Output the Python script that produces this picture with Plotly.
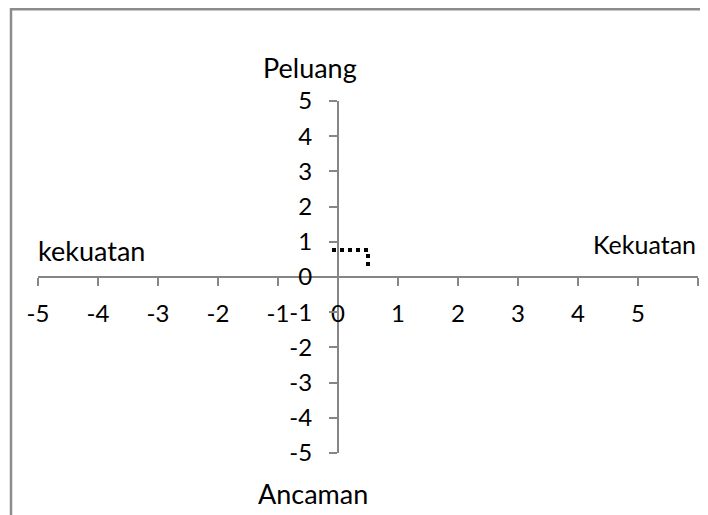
import plotly.graph_objects as go

# SWOT position (dotted marker path)
pos_x = [-0.1, 0.5, 0.5]
pos_y = [0.77, 0.77, 0.26]

x_ticks = [-5, -4, -3, -2, -1, 0, 1, 2, 3, 4, 5, 6]
x_labels = ["-5", "-4", "-3", "-2", "-1", "0", "1", "2", "3", "4", "5", ""]
y_ticks = [-5, -4, -3, -2, -1, 0, 1, 2, 3, 4, 5]
y_labels = [str(v) for v in y_ticks]

axis_color = "#868686"
font = dict(family="Lato, Open Sans, sans-serif", size=24, color="black")
cap_font = dict(family="Lato, Open Sans, sans-serif", size=27, color="black")

fig = go.Figure()
fig.add_trace(go.Scatter(
    x=pos_x, y=pos_y, mode="lines",
    line=dict(color="black", width=4, dash="dot"),
    showlegend=False, hoverinfo="skip",
))

# axis captions (paper coords so they are not hidden outside the ranges)
captions = [
    ("Peluang", 0.412, 1.094, "center", 27),
    ("Ancaman", 0.417, -0.116, "center", 27),
    ("kekuatan", -0.003, 0.574, "left", 27),
    ("Kekuatan", 1.0, 0.593, "right", 25),
]
for txt, cx, cy, anchor, fs in captions:
    fig.add_annotation(x=cx, y=cy, xref="paper", yref="paper", text=txt, showarrow=False,
                       xanchor=anchor, yanchor="middle", font=dict(cap_font, size=fs))

# outer chart frame
fig.add_shape(type="rect", xref="paper", yref="paper",
              x0=-0.0409, y0=-1, x1=2, y1=1.261,
              line=dict(color="#8c8c8c", width=2.5))

fig.update_layout(
    width=700, height=507,
    margin=dict(l=30, r=10, t=93, b=62),
    paper_bgcolor="white", plot_bgcolor="white",
    font=font,
    xaxis=dict(
        range=[-5, 6], tickvals=x_ticks, ticktext=x_labels,
        anchor="free", position=0.5,
        showline=True, linecolor=axis_color, linewidth=2,
        ticks="outside", ticklen=8, tickcolor=axis_color, tickwidth=2,
        ticklabelstandoff=7,
        showgrid=False, zeroline=False, fixedrange=True,
    ),
    yaxis=dict(
        range=[-5, 5], tickvals=y_ticks, ticktext=y_labels,
        anchor="free", position=5 / 11,
        showline=True, linecolor=axis_color, linewidth=2,
        ticks="outside", ticklen=8, tickcolor=axis_color, tickwidth=2,
        ticklabelstandoff=12,
        showgrid=False, zeroline=False, fixedrange=True,
    ),
)

fig.write_html("out.html")
